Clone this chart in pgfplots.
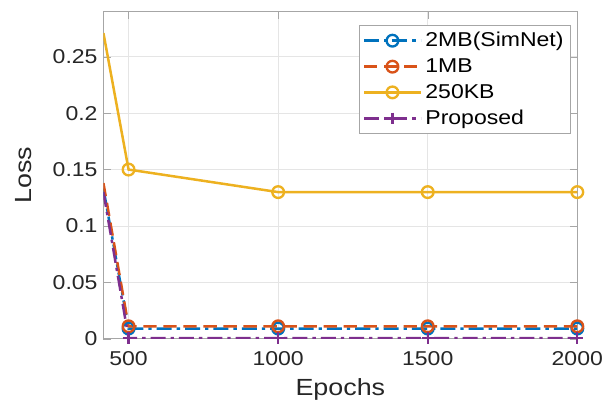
\documentclass[border=0pt]{standalone}
\usepackage{fontspec}
\setmainfont{Liberation Sans}[FakeStretch=1.15]
\usepackage{pgfplots}
\pgfplotsset{compat=1.18}
\definecolor{mblue}{rgb}{0,0.447,0.741}
\definecolor{morange}{rgb}{0.85,0.325,0.098}
\definecolor{myellow}{rgb}{0.929,0.694,0.125}
\definecolor{mpurple}{rgb}{0.494,0.184,0.556}
\definecolor{mtext}{rgb}{0.15,0.15,0.15}
\begin{document}
\begin{tikzpicture}
\begin{axis}[
  width=284pt, height=196pt, scale only axis,
  xmin=416, xmax=2000, ymin=0, ymax=0.29,
  xtick={500,1000,1500,2000},
  ytick={0,0.05,0.1,0.15,0.2,0.25},
  yticklabels={0,0.05,0.1,0.15,0.2,0.25},
  scaled y ticks=false,
  /pgf/number format/assume math mode=true,
  /pgf/number format/set thousands separator={},
  tick label style={font=\fontsize{12}{14}\selectfont, text=mtext},
  xticklabel style={yshift=-4pt},
  xlabel={Epochs}, ylabel={Loss},
  label style={font=\fontsize{14}{16}\selectfont, text=mtext},
  xlabel style={at={(axis description cs:0.5,-0.156)}, anchor=center},
  ylabel style={at={(axis description cs:-0.168,0.5)}, anchor=center},
  grid=major, major grid style={gray!20, line width=0.4pt},
  axis line style={gray!70, line width=0.6pt},
  tick style={gray!70},
  tick align=inside,
  legend style={at={(0.986,0.959)}, anchor=north east, font=\fontsize{12}{14}\selectfont, draw=gray!70, line width=0.5pt, inner sep=2pt, row sep=1.6pt, text=black},
  legend cell align=left,
  legend image code/.code={\draw[#1, mark indices={2}] plot coordinates {(0pt,0pt) (17pt,0pt) (34pt,0pt)};},
]
\coordinate (SW) at (rel axis cs:0,0);
\coordinate (NE) at (rel axis cs:1,1);
\addplot[mblue, line width=1.5pt, dash pattern=on 9pt off 3pt on 2pt off 3pt, mark=o, mark size=3.5pt, mark options={solid, line width=1.4pt}, mark indices={2,3,4,5}]
  coordinates {(416,0.133) (500,0.009) (1000,0.009) (1500,0.009) (2000,0.009)};
\addlegendentry{2MB(SimNet)}
\addplot[morange, line width=1.5pt, dash pattern=on 8pt off 4pt, mark=o, mark size=3.5pt, mark options={solid, line width=1.4pt}, mark indices={2,3,4,5}]
  coordinates {(416,0.138) (500,0.011) (1000,0.011) (1500,0.011) (2000,0.011)};
\addlegendentry{1MB}
\addplot[myellow, line width=1.5pt, mark=o, mark size=3.5pt, mark options={solid, line width=1.4pt}, mark indices={2,3,4,5}]
  coordinates {(416,0.271) (500,0.15) (1000,0.13) (1500,0.13) (2000,0.13)};
\addlegendentry{250KB}
\addplot[mpurple, line width=1.5pt, dash pattern=on 9pt off 3pt on 2pt off 3pt, mark=+, mark size=3.5pt, mark options={solid, line width=1.4pt}, mark indices={2,3,4,5}]
  coordinates {(416,0.13) (500,0.0005) (1000,0.0005) (1500,0.0005) (2000,0.0005)};
\addlegendentry{Proposed}
\end{axis}
\pgfresetboundingbox
\path ([shift={(-62pt,-40pt)}]SW) rectangle ([shift={(22pt,7pt)}]NE);
\end{tikzpicture}
\end{document}
